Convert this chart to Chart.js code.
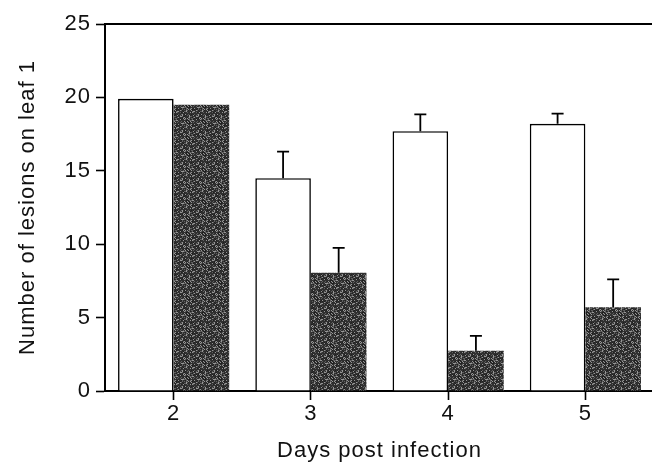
<!DOCTYPE html>
<html>
<head>
<meta charset="utf-8">
<script src="https://cdn.jsdelivr.net/npm/chart.js@4.4.0/dist/chart.umd.min.js"></script>
<style>
  html, body { margin: 0; padding: 0; background: #fff; overflow: hidden; }
  #wrap { width: 654px; height: 464px; }
</style>
</head>
<body>
<div id="wrap"><canvas id="lesionChart" width="654" height="464"></canvas></div>
<script>
const days = ['2', '3', '4', '5'];
const controlValues = [19.9, 14.5, 17.7, 18.2];
const controlErrTop = [null, 16.3, 18.85, 18.9];
const treatedValues = [19.5, 8.05, 2.75, 5.7];
const treatedErrTop = [null, 9.75, 3.75, 7.6];
const yTicks = [0, 5, 10, 15, 20, 25];

const fontFamily = '"Liberation Sans", Arial, Helvetica, sans-serif';

// speckled dark grey fill like the scanned print
function makeSpeckle() {
  const c = document.createElement('canvas');
  c.width = 16; c.height = 16;
  const g = c.getContext('2d');
  for (let y = 0; y < 16; y++) {
    for (let x = 0; x < 16; x++) {
      const h = (x * 73 + y * 151 + x * y * 29) % 17;
      let v = 48;
      if (h < 3) v = 150;
      else if (h < 6) v = 95;
      else if (h < 9) v = 32;
      g.fillStyle = 'rgb(' + v + ',' + v + ',' + v + ')';
      g.fillRect(x, y, 1, 1);
    }
  }
  return g.createPattern(c, 'repeat');
}

const frameAndErrors = {
  id: 'frameAndErrors',
  beforeDraw(chart) {
    // the printed labels are a little spaced out
    chart.ctx.letterSpacing = '1px';
  },
  afterDatasetsDraw(chart) {
    const ctx = chart.ctx;
    const area = chart.chartArea;
    const yScale = chart.scales.y;
    ctx.save();
    ctx.strokeStyle = '#000';
    // top frame line
    ctx.lineWidth = 2;
    ctx.beginPath();
    ctx.moveTo(area.left, area.top);
    ctx.lineTo(area.right, area.top);
    ctx.stroke();
    // upward error bars
    const errs = [controlErrTop, treatedErrTop];
    ctx.lineWidth = 1.8;
    errs.forEach((errTop, di) => {
      const meta = chart.getDatasetMeta(di);
      meta.data.forEach((bar, i) => {
        if (errTop[i] == null) return;
        const yTop = yScale.getPixelForValue(errTop[i]);
        ctx.beginPath();
        ctx.moveTo(bar.x, bar.y);
        ctx.lineTo(bar.x, yTop);
        ctx.moveTo(bar.x - 6, yTop);
        ctx.lineTo(bar.x + 6, yTop);
        ctx.stroke();
      });
    });
    ctx.restore();
  }
};

const ctx = document.getElementById('lesionChart').getContext('2d');
new Chart(ctx, {
  type: 'bar',
  data: {
    labels: days,
    datasets: [
      {
        label: 'Control',
        data: controlValues,
        backgroundColor: '#fff',
        borderColor: '#000',
        borderWidth: 1.6,
        categoryPercentage: 0.81,
        barPercentage: 1.0
      },
      {
        label: 'Treated',
        data: treatedValues,
        backgroundColor: makeSpeckle(),
        borderWidth: 0,
        categoryPercentage: 0.81,
        barPercentage: 1.0
      }
    ]
  },
  options: {
    responsive: false,
    animation: false,
    layout: { padding: { top: 24, right: 0, left: 0, bottom: 0 } },
    plugins: {
      legend: { display: false },
      tooltip: { enabled: false }
    },
    scales: {
      x: {
        grid: {
          offset: false,
          drawOnChartArea: false,
          drawTicks: true,
          tickLength: 9,
          tickWidth: 1.6,
          color: '#000'
        },
        border: { color: '#000', width: 2 },
        ticks: {
          color: '#111',
          padding: 1,
          font: { family: fontFamily, size: 22 }
        },
        title: {
          display: true,
          text: 'Days post infection',
          color: '#111',
          padding: { top: 0, bottom: 0 },
          font: { family: fontFamily, size: 22 }
        },
        afterFit(scale) { scale.height = 73; }
      },
      y: {
        min: 0,
        max: 25,
        afterBuildTicks(scale) {
          scale.ticks = yTicks.map(v => ({ value: v }));
        },
        grid: {
          drawOnChartArea: false,
          drawTicks: true,
          tickLength: 9,
          tickWidth: 1.6,
          color: '#000'
        },
        border: { color: '#000', width: 2 },
        ticks: {
          color: '#111',
          padding: 5,
          font: { family: fontFamily, size: 22 }
        },
        title: {
          display: true,
          text: 'Number of lesions on leaf 1',
          color: '#111',
          padding: { top: 15, bottom: 0 },
          font: { family: fontFamily, size: 22 }
        },
        afterFit(scale) { scale.width = 105; }
      }
    }
  },
  plugins: [frameAndErrors]
});
</script>
</body>
</html>
